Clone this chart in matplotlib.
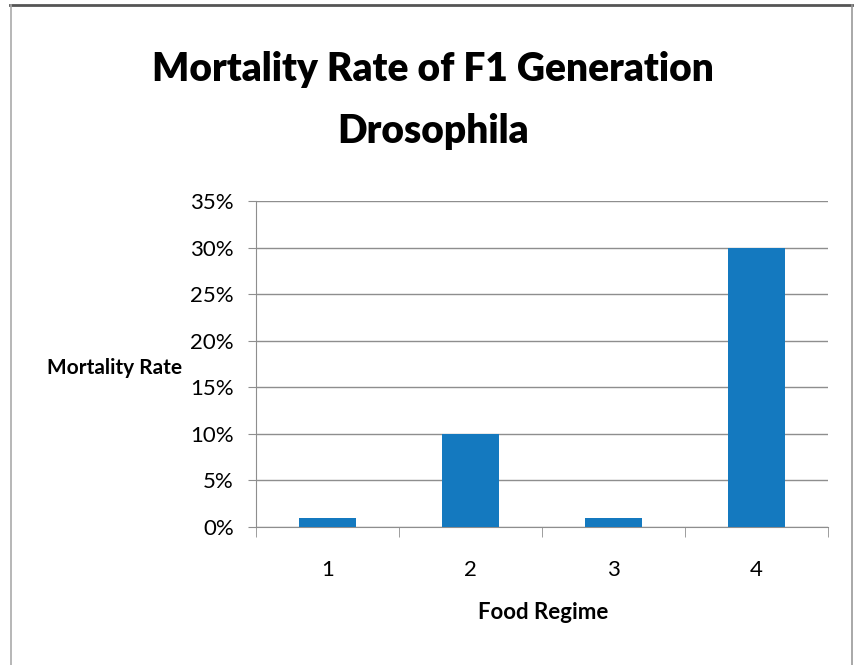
import matplotlib

matplotlib.use("Agg")

import matplotlib.pyplot as plt
from matplotlib.lines import Line2D
from matplotlib.ticker import FuncFormatter, MultipleLocator

regimes = ["1", "2", "3", "4"]
mortality = [0.01, 0.10, 0.01, 0.30]

BAR_COLOR = "#1479bf"
GRID_COLOR = "#8e8e8e"

plt.rcParams["font.family"] = ["Lato", "DejaVu Sans"]

fig = plt.figure(figsize=(8.55, 6.65), dpi=100)
fig.patch.set_facecolor("white")

ax = fig.add_axes([0.2994, 0.2075, 0.669, 0.4902])
x = list(range(len(regimes)))
ax.bar(x, mortality, width=0.4, color=BAR_COLOR, zorder=3)

ax.set_xlim(-0.5, len(regimes) - 0.5)
ax.set_ylim(0, 0.35)
ax.yaxis.set_major_locator(MultipleLocator(0.05))
ax.yaxis.set_major_formatter(FuncFormatter(lambda v, _: f"{v * 100:.0f}%"))
ax.set_xticks(x)
ax.set_xticklabels(regimes)
ax.set_xticks([i - 0.5 for i in range(len(regimes) + 1)], minor=True)

ax.grid(axis="y", color=GRID_COLOR, linewidth=1.0, zorder=0)
for side in ("top", "right"):
    ax.spines[side].set_visible(False)
ax.spines["left"].set_color(GRID_COLOR)
ax.spines["bottom"].set_color(GRID_COLOR)
ax.tick_params(axis="y", length=6, color=GRID_COLOR, labelsize=16, pad=10)
ax.tick_params(axis="x", which="major", length=0, labelsize=16, pad=24)
ax.tick_params(axis="x", which="minor", length=7, color=GRID_COLOR)

fig.text(0.506, 0.895, "Mortality Rate of F1 Generation", ha="center", va="center",
         fontsize=28, fontweight="heavy")
fig.text(0.506, 0.802, "Drosophila", ha="center", va="center",
         fontsize=28, fontweight="heavy")
fig.text(0.134, 0.447, "Mortality Rate", ha="center", va="center",
         fontsize=15, fontweight="bold")
fig.text(0.635, 0.079, "Food Regime", ha="center", va="center",
         fontsize=16, fontweight="bold")

# outer frame around the chart
fig.add_artist(Line2D([0.012, 0.996], [0.992, 0.992], color="#555555", linewidth=2.0))
fig.add_artist(Line2D([0.013, 0.013], [0.0, 0.992], color="#aaaaaa", linewidth=1.2))
fig.add_artist(Line2D([0.996, 0.996], [0.0, 0.992], color="#999999", linewidth=1.2))

fig.savefig("out.png", dpi=100)
